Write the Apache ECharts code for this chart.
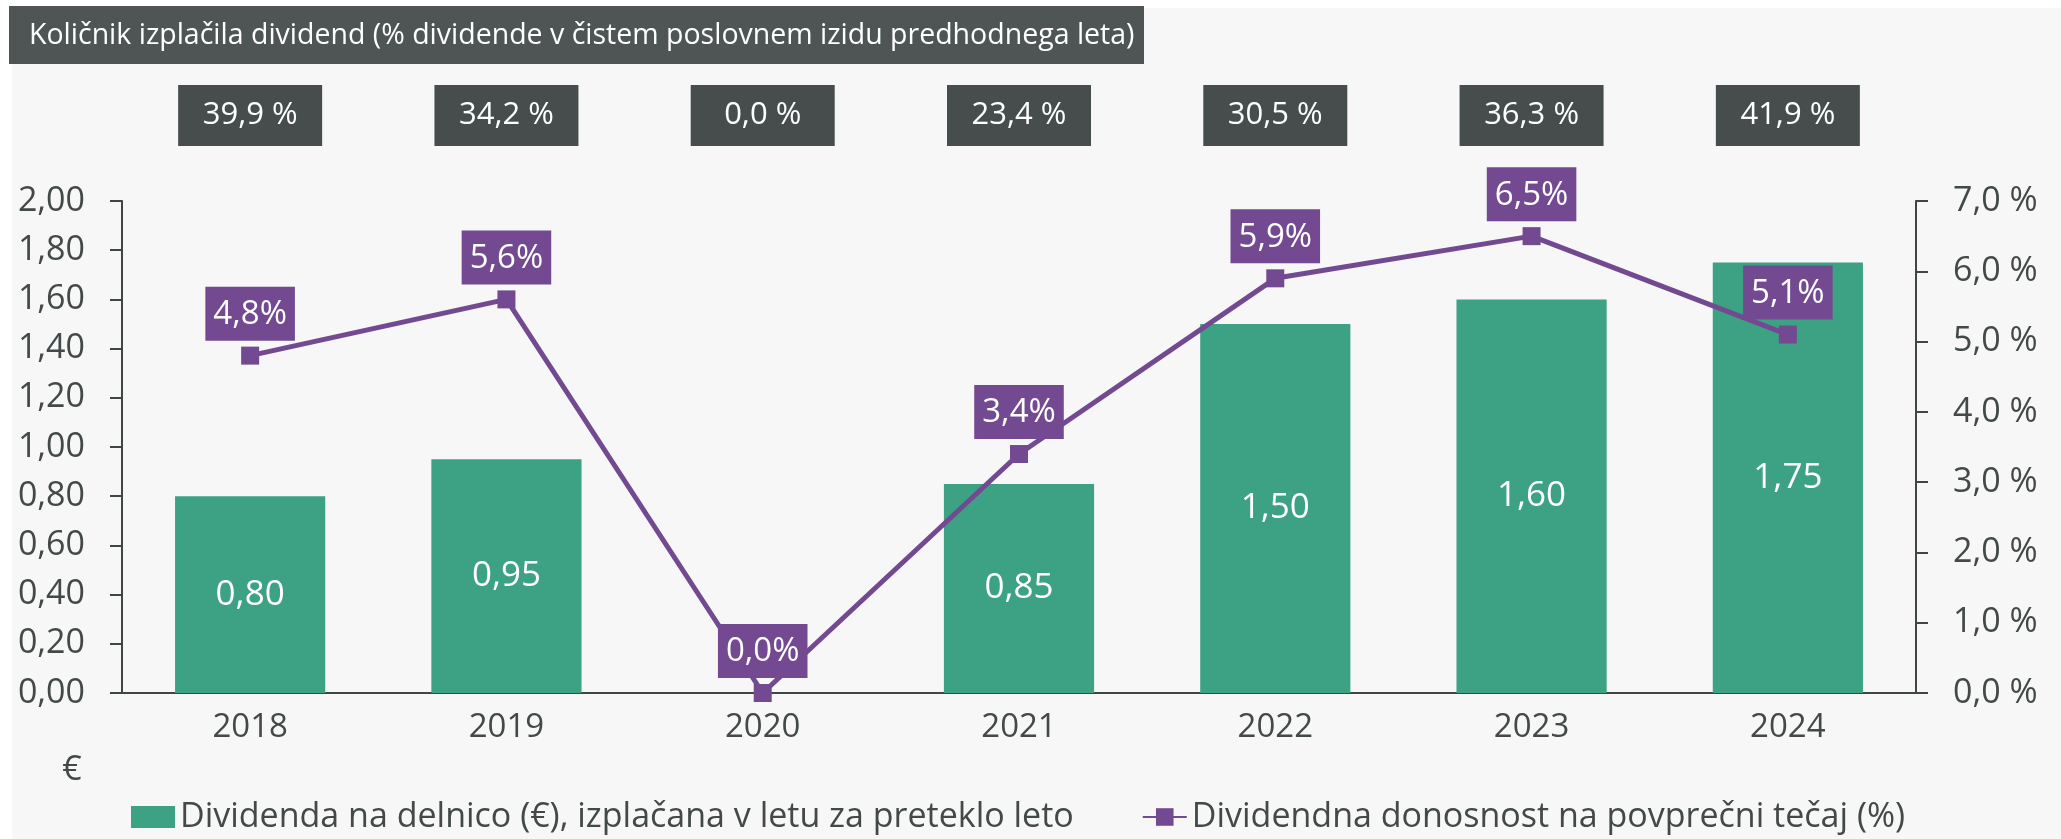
<!DOCTYPE html>
<html>
<head>
<meta charset="utf-8">
<script src="https://cdn.jsdelivr.net/npm/echarts@6/dist/echarts.min.js"></script>
<style>
  html, body { margin: 0; padding: 0; background: #ffffff; }
  #chart { width: 2061px; height: 839px; }
</style>
</head>
<body>
<div id="chart"></div>
<script>
// data
const years = ['2018', '2019', '2020', '2021', '2022', '2023', '2024']
const dividendPerShare = [0.80, 0.95, 0.00, 0.85, 1.50, 1.60, 1.75]
const dividendYield = [4.8, 5.6, 0.0, 3.4, 5.9, 6.5, 5.1]
const payoutRatio = [39.9, 34.2, 0.0, 23.4, 30.5, 36.3, 41.9]

const titleText = 'Količnik izplačila dividend (% dividende v čistem poslovnem izidu predhodnega leta)'
const barName = 'Dividenda na delnico (€), izplačana v letu za preteklo leto'
const lineName = 'Dividendna donosnost na povprečni tečaj (%)'

const font = '"Open Sans", "DejaVu Sans", sans-serif'
const green = '#3ca283'
const purple = '#734a91'
const darkBox = '#474d4d'
const axisColor = '#404545'
const textColor = '#434848'

const comma = (v, d) => v.toFixed(d).replace('.', ',')

const chart = echarts.init(document.getElementById('chart'))

chart.setOption({
  backgroundColor: '#ffffff',
  textStyle: { fontFamily: font },
  animation: false,
  graphic: [
    {
      type: 'rect',
      left: 12,
      top: 8,
      z: -10,
      shape: { width: 2049, height: 831 },
      style: { fill: '#f7f7f7' }
    },
    {
      type: 'rect',
      left: 9,
      top: 6,
      shape: { width: 1135, height: 58 },
      style: { fill: '#4f5555' }
    },
    {
      type: 'text',
      x: 29,
      y: 36,
      style: {
        text: titleText,
        fill: '#ffffff',
        font: '28.5px ' + font,
        verticalAlign: 'middle'
      }
    },
    {
      type: 'text',
      x: 72,
      y: 770,
      style: {
        text: '€',
        fill: textColor,
        font: '34px ' + font,
        align: 'center',
        verticalAlign: 'middle'
      }
    }
  ],
  legend: {
    left: 126,
    top: 795,
    itemWidth: 44,
    itemHeight: 22,
    itemGap: 68,
    textStyle: { color: textColor, fontSize: 34, fontFamily: font },
    data: [
      { name: barName, icon: 'rect' },
      { name: lineName }
    ]
  },
  grid: {
    left: 122,
    right: 145,
    top: 201,
    bottom: 146,
    containLabel: false
  },
  xAxis: [
    {
      type: 'category',
      data: years,
      axisLine: { lineStyle: { color: axisColor, width: 2 } },
      axisTick: { show: false },
      axisLabel: { color: textColor, fontSize: 33, margin: 18 }
    },
    {
      type: 'category',
      position: 'top',
      data: payoutRatio.map((v) => comma(v, 1) + ' %'),
      axisLine: { show: false },
      axisTick: { show: false },
      axisLabel: {
        color: '#ffffff',
        fontSize: 31,
        margin: 55,
        backgroundColor: darkBox,
        width: 144,
        height: 61,
        lineHeight: 61,
        align: 'center'
      }
    }
  ],
  yAxis: [
    {
      type: 'value',
      min: 0,
      max: 2,
      interval: 0.2,
      splitLine: { show: false },
      axisLine: { show: true, lineStyle: { color: axisColor, width: 2 } },
      axisTick: { show: true, length: 12, lineStyle: { color: axisColor, width: 2 } },
      axisLabel: {
        color: textColor,
        fontSize: 34,
        margin: 37,
        formatter: (v) => comma(v, 2)
      }
    },
    {
      type: 'value',
      min: 0,
      max: 7,
      interval: 1,
      position: 'right',
      splitLine: { show: false },
      axisLine: { show: true, lineStyle: { color: axisColor, width: 2 } },
      axisTick: { show: true, length: 12, lineStyle: { color: axisColor, width: 2 } },
      axisLabel: {
        color: textColor,
        fontSize: 34,
        margin: 37,
        formatter: (v) => comma(v, 1) + ' %'
      }
    }
  ],
  series: [
    {
      name: barName,
      type: 'bar',
      data: dividendPerShare,
      barWidth: '58.6%',
      itemStyle: { color: green },
      label: {
        show: true,
        position: 'inside',
        color: '#ffffff',
        fontSize: 35,
        formatter: (p) => (p.value > 0 ? comma(p.value, 2) : '')
      }
    },
    {
      name: lineName,
      type: 'line',
      yAxisIndex: 1,
      data: dividendYield,
      symbol: 'rect',
      symbolSize: 18,
      z: 5,
      lineStyle: { color: purple, width: 5 },
      itemStyle: { color: purple },
      label: {
        show: true,
        position: 'top',
        distance: 6,
        color: '#ffffff',
        fontSize: 33,
        lineHeight: 42,
        padding: [7, 8, 5, 8],
        backgroundColor: purple,
        formatter: (p) => comma(p.value, 1) + '%'
      }
    }
  ]
})

window.addEventListener('resize', () => chart.resize())
</script>
</body>
</html>
